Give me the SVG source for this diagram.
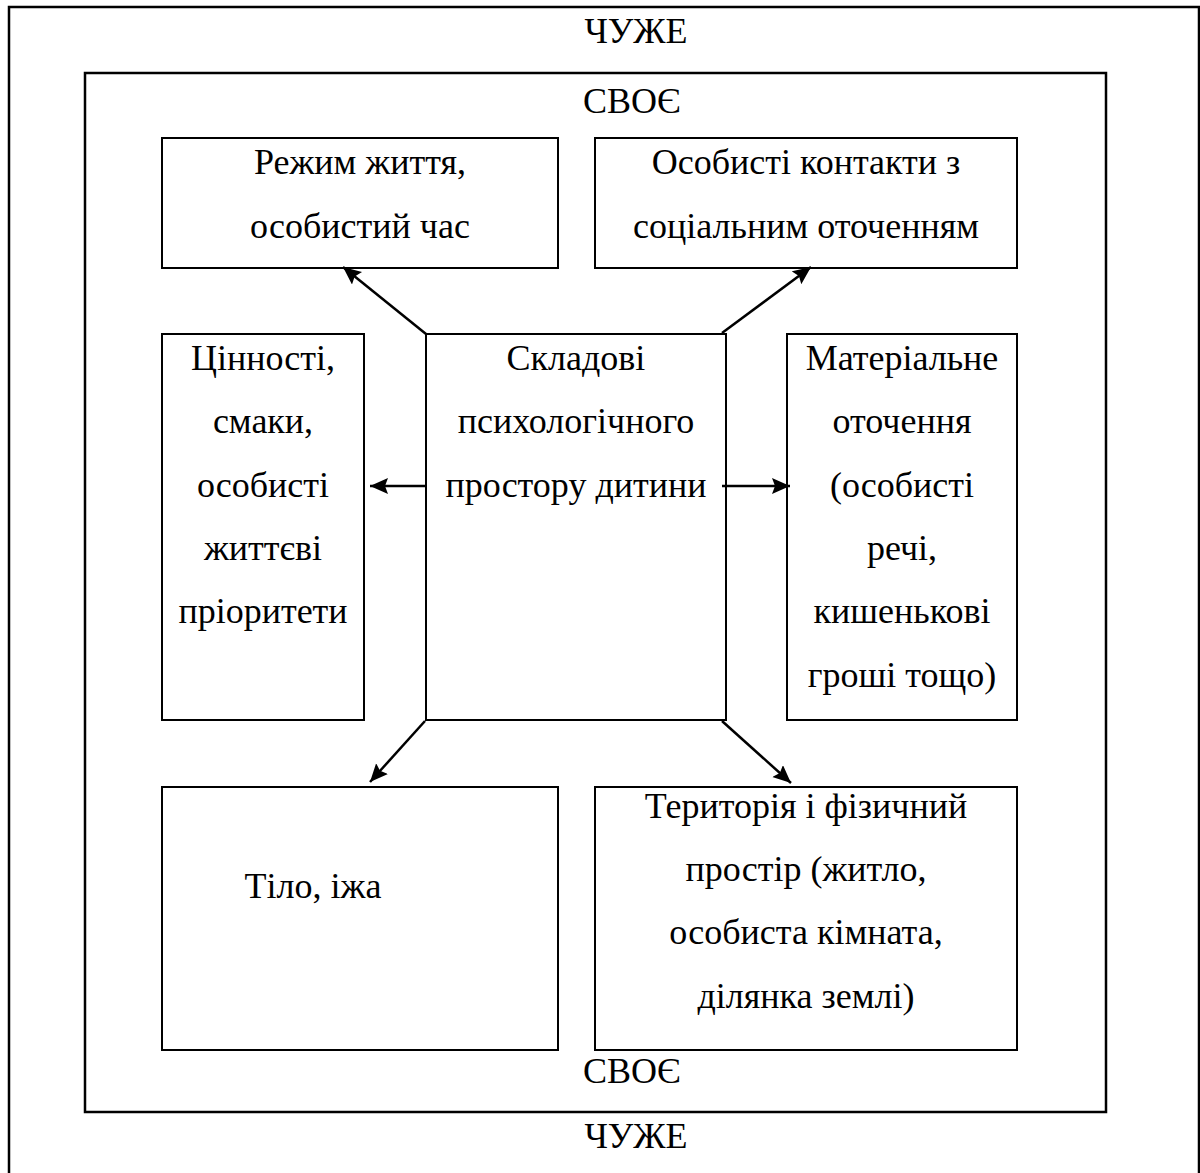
<svg xmlns="http://www.w3.org/2000/svg" width="1200" height="1173" viewBox="0 0 1200 1173">
<style>
.f{fill:#fff;stroke:#000;stroke-width:2}
.fr{fill:none;stroke:#000;stroke-width:2.5}
text{font-family:"Liberation Serif","Times New Roman",serif;font-size:36px;fill:#000;text-anchor:middle}
.c line{stroke:#000;stroke-width:2.5;marker-end:url(#ah)}
</style>
<defs>
<marker id="ah" markerUnits="userSpaceOnUse" markerWidth="22" markerHeight="18" refX="18" refY="8" orient="auto">
<path d="M0,0 L18,8 L0,16 L3,8 Z" fill="#000"/>
</marker>
</defs>
<rect fill="#fff" width="1200" height="1173"/>
<g id="outer">
<rect class="fr" x="9" y="7" width="1190" height="1180"/>
<text x="636" y="43">ЧУЖЕ</text>
<text x="636" y="1148">ЧУЖЕ</text>
</g>
<g id="inner">
<rect class="fr" x="85" y="73" width="1021" height="1039"/>
<text x="632" y="113">СВОЄ</text>
<text x="632" y="1083">СВОЄ</text>
</g>
<g id="n1">
<rect class="f" x="162" y="138" width="396" height="130"/>
<text x="360" y="174">Режим життя,</text>
<text x="360" y="238">особистий час</text>
</g>
<g id="n2">
<rect class="f" x="595" y="138" width="422" height="130"/>
<text x="806" y="174">Особисті контакти з</text>
<text x="806" y="238">соціальним оточенням</text>
</g>
<g id="n3">
<rect class="f" x="162" y="334" width="202" height="386"/>
<text x="263" y="370">Цінності,</text>
<text x="263" y="433">смаки,</text>
<text x="263" y="497">особисті</text>
<text x="263" y="560">життєві</text>
<text x="263" y="623">пріоритети</text>
</g>
<g id="n4">
<rect class="f" x="426" y="334" width="300" height="386"/>
<text x="576" y="370">Складові</text>
<text x="576" y="433">психологічного</text>
<text x="576" y="497">простору дитини</text>
</g>
<g id="n5">
<rect class="f" x="787" y="334" width="230" height="386"/>
<text x="902" y="370">Матеріальне</text>
<text x="902" y="433">оточення</text>
<text x="902" y="497">(особисті</text>
<text x="902" y="560">речі,</text>
<text x="902" y="623">кишенькові</text>
<text x="902" y="687">гроші тощо)</text>
</g>
<g id="n6">
<rect class="f" x="162" y="787" width="396" height="263"/>
<text x="313" y="898">Тіло, іжа</text>
</g>
<g id="n7">
<rect class="f" x="595" y="787" width="422" height="263"/>
<text x="806" y="818">Територія і фізичний</text>
<text x="806" y="881">простір (житло,</text>
<text x="806" y="944">особиста кімната,</text>
<text x="806" y="1008">ділянка землі)</text>
</g>
<g id="connectors" class="c">
<line x1="426" y1="334" x2="343" y2="267"/>
<line x1="722" y1="333" x2="811" y2="267"/>
<line x1="426" y1="486" x2="370" y2="486"/>
<line x1="722" y1="486" x2="790" y2="486"/>
<line x1="425" y1="721" x2="370" y2="782"/>
<line x1="722" y1="721" x2="791" y2="783"/>
</g>
</svg>
